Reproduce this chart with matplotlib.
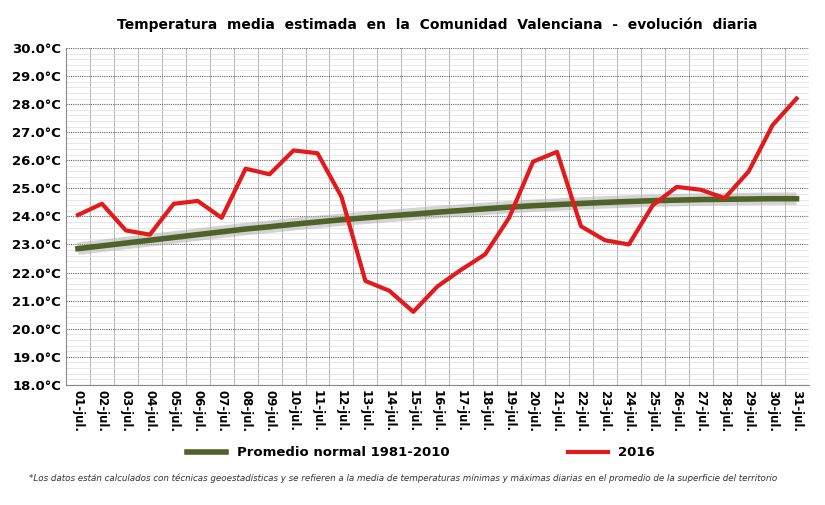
import matplotlib
matplotlib.use("Agg")
import matplotlib.pyplot as plt
import numpy as np
from matplotlib.ticker import MultipleLocator

days = [f"{d:02d}-jul." for d in range(1, 32)]
t2016 = [24.05, 24.45, 23.5, 23.35, 24.45, 24.55, 23.95, 25.7, 25.5, 26.35, 26.25, 24.7, 21.7, 21.35, 20.6,
         21.5, 22.1, 22.65, 23.95, 25.95, 26.3, 23.65, 23.15, 23.0, 24.4, 25.05, 24.95, 24.65, 25.6, 27.25, 28.2]
normal = [22.85, 22.95, 23.05, 23.15, 23.25, 23.35, 23.45, 23.55, 23.63, 23.72, 23.8, 23.88, 23.95, 24.02, 24.08,
          24.15, 24.21, 24.27, 24.33, 24.38, 24.42, 24.46, 24.5, 24.53, 24.56, 24.58, 24.6, 24.61, 24.62, 24.63, 24.63]

fig = plt.figure(figsize=(8.25, 5.05), dpi=100)
ax = fig.add_axes([0.08, 0.238, 0.9, 0.667])
x = np.arange(31)
ax.plot(x, normal, color="#aaaaaa", lw=9, alpha=0.5, solid_capstyle="butt")
l1, = ax.plot(x, normal, color="#4f6228", lw=4, label="Promedio normal 1981-2010")
l2, = ax.plot(x, t2016, color="#e31a1c", lw=3, label="2016")
ax.set_ylim(18, 30)
ax.set_xlim(-0.5, 30.5)
ax.yaxis.set_minor_locator(MultipleLocator(0.2))
ax.set_yticks(np.arange(18, 31, 1))
ax.set_yticklabels([f"{v:.1f}°C" for v in range(18, 31)], fontsize=9.5, fontweight="bold")
ax.set_xticks(x)
ax.set_xticklabels(days, rotation=-90, fontsize=8.5, fontweight="bold")
ax.set_xticks(np.arange(-0.5, 31, 1), minor=True)
ax.tick_params(axis="x", which="major", length=0, pad=4)
ax.tick_params(axis="y", which="both", length=0)
ax.tick_params(axis="x", which="minor", length=0)
ax.grid(axis="y", which="major", color="#666666", ls=(0, (1, 1)), lw=0.8)
ax.grid(axis="y", which="minor", color="#dddddd", lw=0.5)
ax.grid(axis="x", which="minor", color="#aaaaaa", lw=0.6)
for s in ["top", "right"]:
    ax.spines[s].set_visible(False)
ax.spines["left"].set_color("#888888")
ax.spines["bottom"].set_color("#888888")
ax.set_title("Temperatura  media  estimada  en  la  Comunidad  Valenciana  -  evolución  diaria",
             fontsize=10, fontweight="bold", pad=14)
fig.legend(handles=[l1, l2], loc="center", bbox_to_anchor=(0.51, 0.103), ncol=2,
           frameon=False, prop={"weight": "bold", "size": 9.5}, columnspacing=9, handlelength=3)
fig.text(0.035, 0.047, "*Los datos están calculados con técnicas geoestadísticas y se refieren a la media de temperaturas mínimas y máximas diarias en el promedio de la superficie del territorio",
         fontsize=6.3, style="italic", color="#333333")
fig.savefig("out.png", dpi=100)
